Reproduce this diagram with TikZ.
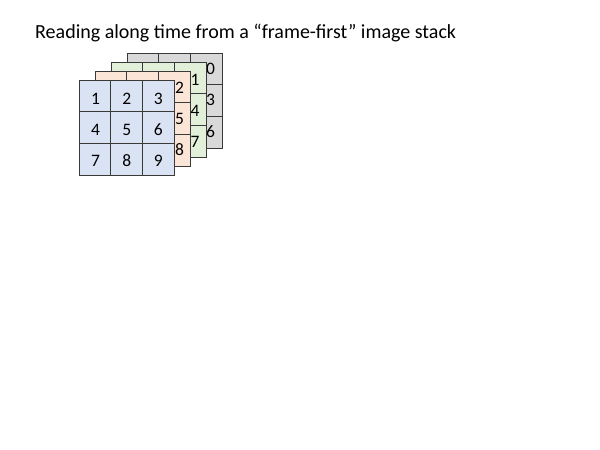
\documentclass[tikz,border=0pt]{standalone}
\usepackage{fontspec}
\setmainfont{Carlito}
\definecolor{frameblue}{HTML}{DAE3F3}
\definecolor{framepeach}{HTML}{FBE5D6}
\definecolor{framegreen}{HTML}{E2F0D9}
\definecolor{framegray}{HTML}{D9D9D9}
\definecolor{gridline}{HTML}{3A3A3A}
\begin{document}
\begin{tikzpicture}[x=1pt, y=-1pt,
    cellnum/.style={inner sep=0pt, font=\fontsize{17.5}{17.5}\selectfont},
    backnum/.style={cellnum, anchor=west}]
    \useasboundingbox (0,0) rectangle (600,450);
    \node[anchor=base west, inner sep=0pt, font=\fontsize{20}{20}\selectfont] (title) at (35,38.5)
        {Reading along time from a “frame-first” image stack};

    %gray frame (back) 127,53
    \filldraw[fill=framegray, draw=gridline] (127,53) rectangle (222,148);
    \foreach \k in {1,2} {
        \draw[gridline] (127+31.67*\k,53) -- (127+31.67*\k,148);
        \draw[gridline] (127,53+31.67*\k) -- (222,53+31.67*\k);
    }
    \node[backnum] (g0) at (206,69) {0};
    \node[backnum] (g3) at (206,99.8) {3};
    \node[backnum] (g6) at (206,131.5) {6};

    %green frame 111,62
    \filldraw[fill=framegreen, draw=gridline] (111,62) rectangle (206,157);
    \foreach \k in {1,2} {
        \draw[gridline] (111+31.67*\k,62) -- (111+31.67*\k,157);
        \draw[gridline] (111,62+31.67*\k) -- (206,62+31.67*\k);
    }
    \node[backnum] (e1) at (190.5,79.5) {1};
    \node[backnum] (e4) at (190.5,110.5) {4};
    \node[backnum] (e7) at (190.5,141.7) {7};

    %peach frame 95,71
    \filldraw[fill=framepeach, draw=gridline] (95,71) rectangle (190,166);
    \foreach \k in {1,2} {
        \draw[gridline] (95+31.67*\k,71) -- (95+31.67*\k,166);
        \draw[gridline] (95,71+31.67*\k) -- (190,71+31.67*\k);
    }
    \node[backnum] (p2) at (175,87.5) {2};
    \node[backnum] (p5) at (175,118.5) {5};
    \node[backnum] (p8) at (175,150) {8};

    %blue frame (front) 79,80
    \filldraw[fill=frameblue, draw=gridline] (79,80) rectangle (174,175);
    \foreach \k in {1,2} {
        \draw[gridline] (79+31.67*\k,80) -- (79+31.67*\k,175);
        \draw[gridline] (79,80+31.67*\k) -- (174,80+31.67*\k);
    }
    \foreach \r in {0,1,2} {
        \foreach \c in {0,1,2} {
            \pgfmathtruncatemacro{\v}{3*\r+\c+1}
            \node[cellnum] (f\v) at (95.5+31.4*\c,98.4+31.1*\r) {\v};
        }
    }
\end{tikzpicture}
\end{document}
